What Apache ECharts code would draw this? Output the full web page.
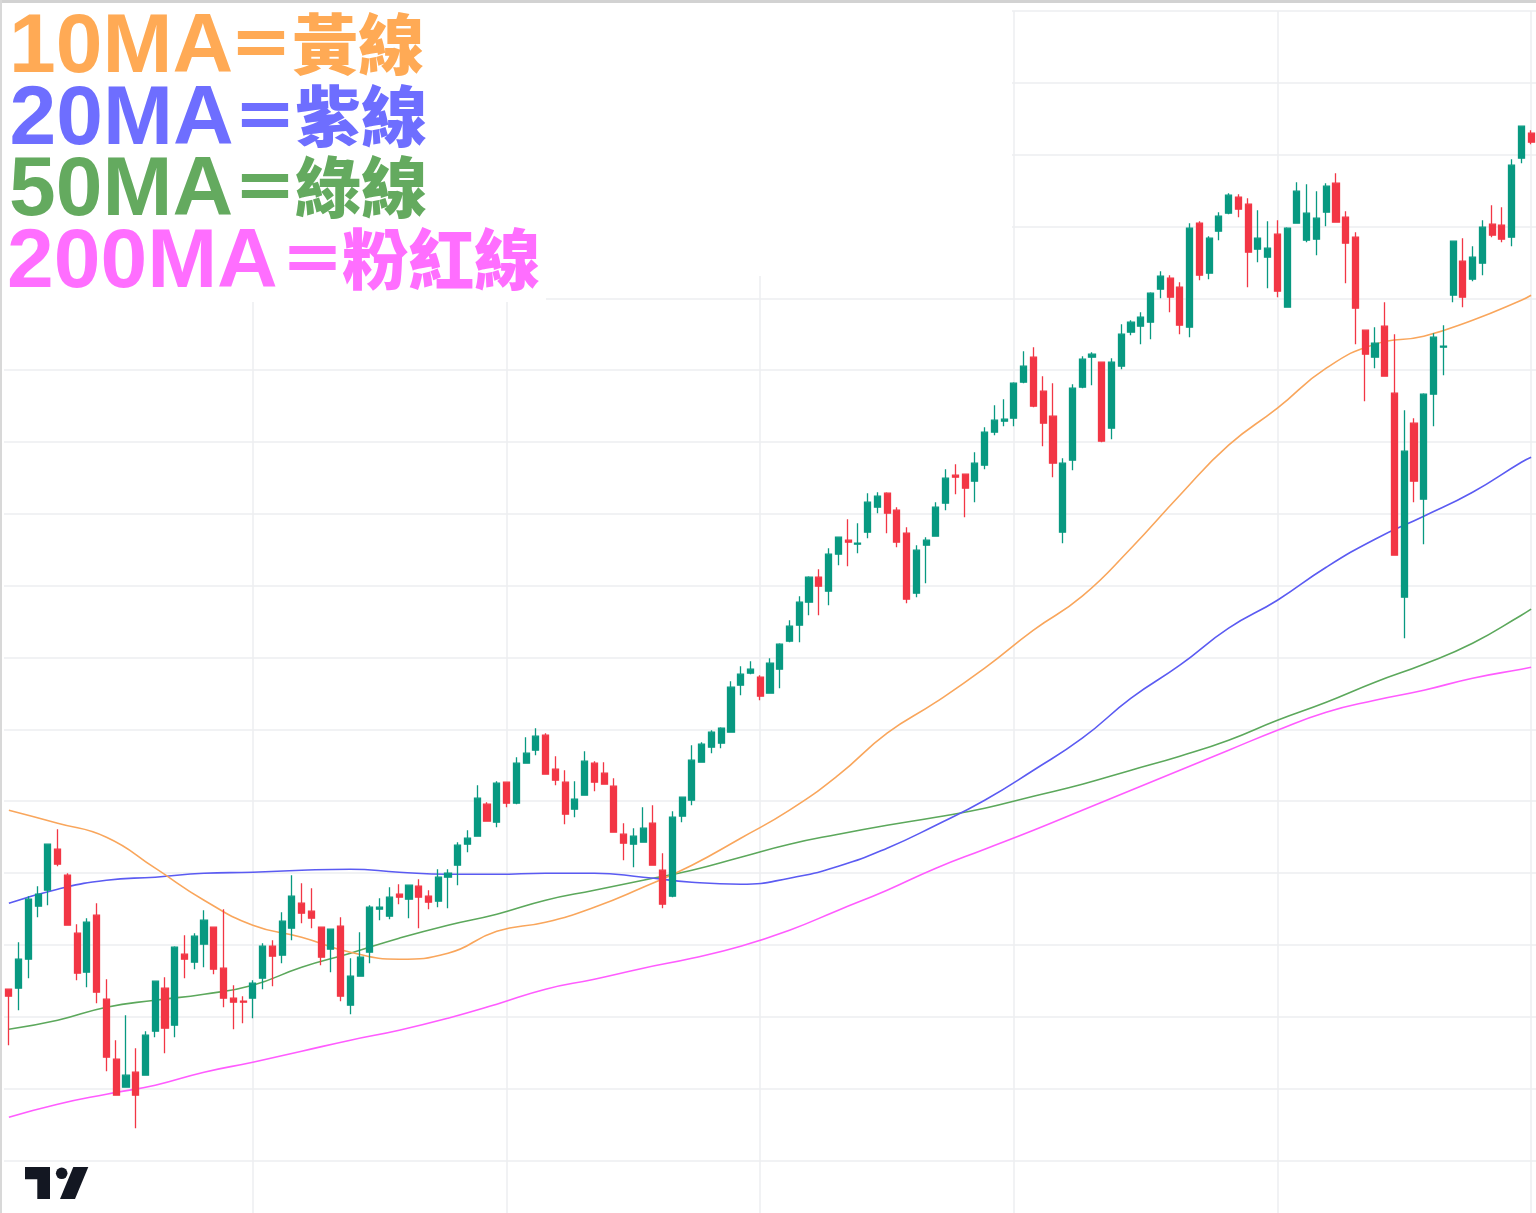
<!DOCTYPE html>
<html>
<head>
<meta charset="utf-8">
<script src="https://cdn.jsdelivr.net/npm/echarts@6/dist/echarts.min.js"></script>
<style>
html,body{margin:0;padding:0;background:#fff;}
#chart{width:1536px;height:1213px;}
</style>
</head>
<body>
<div id="chart"></div>
<script>
// ---- data (price units) ----
const openVals = [
315,316,345,398,414,455,429,371,332,389,
305,245,217,232,229,273,316,279,350,342,
360,377,336,306,303,306,326,358,349,376,
401,393,377,355,378,299,328,352,395,388,
410,405,418,408,403,427,439,460,468,500,
482,522,501,541,554,569,535,522,495,509,
541,531,518,470,460,462,481,434,408,488,
504,542,557,561,572,619,631,627,611,635,
663,679,702,727,713,750,764,760,772,797,
811,794,771,711,759,768,801,829,830,823,
839,872,883,886,922,947,913,888,772,844,
917,947,942,876,938,972,978,982,1015,1026,
1017,977,1081,1031,1073,1091,1107,1100,1055,1047,
1070,997,1081,1064,1065,1092,1121,1087,1067,974,
947,978,911,707,881,805,910,957,1009,1043,
1025,1041,1080,1079,1067,1146,1171];
const closeVals = [
308,345,405,410,460,440,379,331,382,312,
247,209,229,209,269,323,276,357,345,368,
384,335,306,302,302,321,358,348,383,408,
391,386,347,375,308,328,347,397,397,407,
407,419,407,402,427,431,459,466,506,483,
521,501,541,551,568,530,524,490,505,543,
522,520,472,461,468,476,439,400,487,507,
544,560,572,576,617,630,635,608,641,660,
678,702,727,718,750,767,762,761,802,808,
791,762,705,754,764,797,826,827,816,841,
872,884,885,921,938,898,881,841,841,916,
945,950,863,942,970,982,987,1011,1028,1007,
979,1076,1029,1066,1088,1109,1095,1052,1066,1056,
1013,1076,1113,1091,1086,1118,1082,1061,996,950,
961,928,749,853,823,910,967,958,1063,1007,
1047,1077,1069,1065,1139,1178,1162];
const lowVals = [
259,294,326,387,399,438,379,324,317,301,
233,209,217,176,229,267,251,267,326,335,
337,330,297,275,281,286,315,318,341,364,
381,376,339,332,303,290,328,341,384,385,
400,386,376,395,397,396,419,452,468,483,
477,497,500,541,549,530,519,480,487,509,
513,520,472,444,437,462,439,396,407,482,
499,542,551,556,572,609,630,604,611,616,
662,662,689,689,699,739,738,751,766,791,
771,757,701,707,721,768,794,810,787,802,
835,869,878,878,921,897,858,827,761,834,
916,919,862,865,935,969,960,965,1006,992,
970,967,1024,1025,1064,1090,1087,1017,1042,1016,
1007,997,1081,1062,1049,1078,1082,1021,960,903,
936,928,749,666,802,760,878,929,1002,997,
1023,1029,1067,1062,1058,1141,1160];
const highVals = [
315,362,408,418,460,475,431,380,386,401,
325,264,289,256,273,323,327,358,369,371,
394,377,395,319,308,324,361,364,392,429,
421,416,377,375,387,346,372,399,406,417,
420,419,425,414,435,435,462,474,519,502,
523,522,547,567,576,571,548,534,523,553,
543,542,526,481,476,497,499,451,493,507,
559,562,574,577,623,638,643,629,646,661,
684,708,728,735,756,767,785,781,811,812,
812,797,777,759,767,802,835,840,830,852,
877,899,905,922,953,957,928,921,846,920,
948,952,942,946,980,984,992,1012,1033,1029,
1022,1081,1083,1068,1092,1111,1110,1106,1094,1083,
1084,1077,1122,1120,1113,1121,1131,1093,1072,974,
977,1002,970,894,886,911,971,979,1063,1066,
1058,1084,1099,1097,1145,1178,1174];

const categories = openVals.map((_, i) => 'D' + (i + 1));

// moving-average lines, sampled at these candle positions
const maIdx = [0,5,10,15,20,25,30,35,40,45,50,55,60,65,70,75,80,85,90,95,100,105,110,115,120,125,130,135,140,145,150,155,156];
const ma10  = [494,481,467,436,404,379,367,352,345,351,373,382,397,417,439,466,494,529,571,602,636,674,708,756,809,859,896,936,960,968,984,1004,1009];
const ma20  = [401,415,424,427,431,432,434,435,432,430,430,431,431,427,422,420,426,438,456,479,504,534,566,606,639,676,704,737,765,788,812,842,847];
const ma50  = [275,284,297,304,310,319,337,351,366,379,390,404,414,424,434,447,460,470,479,487,496,508,520,534,548,564,584,602,622,640,661,689,695];
const ma200 = [187,200,210,219,232,242,253,264,274,286,300,315,325,336,346,358,374,394,414,436,455,474,494,514,534,554,574,592,604,614,626,635,637];

// time grid columns (candle indices) and price grid levels
const timeGridIdx = [25, 51, 77, 103, 130, 156];
const priceStep = 71.85;
const priceMin = 143.7;   // lowest grid level
const priceMax = 1293.3;  // highest grid level

const legendRows = [
  {name: '10MA',  cjk: '黃線',   color: '#FFAA55'},
  {name: '20MA',  cjk: '紫線',   color: '#6E6EFF'},
  {name: '50MA',  cjk: '綠線',   color: '#64AA5F'},
  {name: '200MA', cjk: '粉紅線', color: '#FF6EFF'}
];

// ---- build ----
const candleData = openVals.map((o, i) => [o, closeVals[i], lowVals[i], highVals[i]]);
const pairs = arr => maIdx.map((x, i) => [x, arr[i]]);

const chart = echarts.init(document.getElementById('chart'), null, {renderer: 'canvas'});

const lineSeries = (name, arr, color, z) => ({
  name, type: 'line', xAxisIndex: 1, yAxisIndex: 0,
  data: pairs(arr), smooth: true, showSymbol: false, symbol: 'none',
  lineStyle: {color, width: 1.6}, z, silent: true
});

const rowY = [43.5, 116, 187, 259];
const nameY = [48.5, 121, 192, 264];
const nameX = [9, 9.5, 9, 7];
const eqX = [261, 265, 265, 312.5];
const cjkX = [292, 295, 295, 342];
const graphics = [
  {type: 'rect', z: 1, shape: {x: 0, y: 0, width: 1012, height: 276}, style: {fill: '#ffffff'}},
  {type: 'rect', z: 1, shape: {x: 0, y: 276, width: 546, height: 26}, style: {fill: '#ffffff'}},
  {type: 'rect', z: 100, shape: {x: 0, y: 0, width: 1536, height: 3}, style: {fill: '#d2d2d2'}},
  {type: 'rect', z: 100, shape: {x: 0, y: 0, width: 2, height: 1213}, style: {fill: '#d8d8d8'}},
  // TradingView logo
  {type: 'polygon', z: 100, shape: {points: [[25,1167],[50,1167],[50,1199],[37.3,1199],[37.3,1179.3],[25,1179.3]]}, style: {fill: '#131722'}},
  {type: 'circle', z: 100, shape: {cx: 61.7, cy: 1173.3, r: 5.8}, style: {fill: '#131722'}},
  {type: 'polygon', z: 100, shape: {points: [[73.3,1167],[88.3,1167],[75,1199],[60,1199]]}, style: {fill: '#131722'}}
];
legendRows.forEach((r, i) => {
  graphics.push({type: 'text', z: 101, x: nameX[i], y: nameY[i], style: {
    text: r.name, fill: r.color, font: 'bold 84px "Liberation Sans", Arial, sans-serif',
    textAlign: 'left', textVerticalAlign: 'middle'}});
  graphics.push({type: 'text', z: 101, x: eqX[i], y: rowY[i], style: {
    text: '＝', fill: r.color, font: '900 66px "Noto Sans CJK TC", sans-serif',
    textAlign: 'center', textVerticalAlign: 'middle'}});
  graphics.push({type: 'text', z: 101, x: cjkX[i], y: rowY[i], style: {
    text: r.cjk, fill: r.color, font: '900 66px "Noto Sans CJK TC", sans-serif',
    textAlign: 'left', textVerticalAlign: 'middle'}});
});

const hidden = {axisLine: {show: false}, axisTick: {show: false}, axisLabel: {show: false}};

chart.setOption({
  animation: false,
  backgroundColor: '#ffffff',
  grid: [
    {left: 4, right: 0, top: 10.9, bottom: 52.5, containLabel: false},
    {left: 4, right: 0, top: 10.9, bottom: 0, containLabel: false}
  ],
  xAxis: [
    Object.assign({type: 'category', gridIndex: 0, data: categories, boundaryGap: true, splitLine: {show: false}}, hidden),
    Object.assign({type: 'value', gridIndex: 0, min: -0.5, max: 156.5, show: false, splitLine: {show: false}}, hidden),
    Object.assign({type: 'category', gridIndex: 1, data: categories, boundaryGap: true,
     splitLine: {show: true, alignWithLabel: true,
       interval: (idx) => timeGridIdx.indexOf(idx) >= 0,
       lineStyle: {color: '#eceef1', width: 1.5}}}, hidden)
  ],
  yAxis: [
    Object.assign({type: 'value', gridIndex: 0, min: priceMin, max: priceMax, interval: priceStep,
     splitLine: {show: true, lineStyle: {color: '#eceef1', width: 1.5}}}, hidden),
    Object.assign({type: 'value', gridIndex: 1, min: 0, max: 1, splitLine: {show: false}}, hidden)
  ],
  graphic: graphics,
  series: [
    lineSeries('200MA', ma200, '#FF5CFF', 3),
    lineSeries('50MA', ma50, '#5CA85C', 3),
    lineSeries('20MA', ma20, '#5B5BF2', 3),
    lineSeries('10MA', ma10, '#F9A65C', 3),
    {name: 'K', type: 'candlestick', xAxisIndex: 0, yAxisIndex: 0, data: candleData,
     barWidth: 6.6, z: 4, silent: true,
     itemStyle: {color: '#089981', color0: '#F23645', borderColor: '#089981', borderColor0: '#F23645', borderWidth: 1.3}}
  ]
});
</script>
</body>
</html>
